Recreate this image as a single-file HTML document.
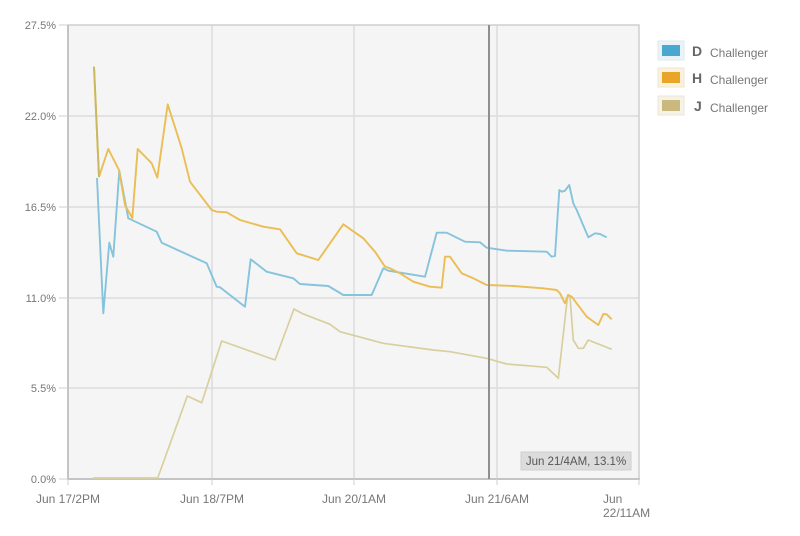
<!DOCTYPE html>
<html><head><meta charset="utf-8"><style>
html,body{margin:0;padding:0;background:#fff;}
svg{display:block;font-family:"Liberation Sans",sans-serif;}
</style></head><body>
<svg width="800" height="536" viewBox="0 0 800 536" xmlns="http://www.w3.org/2000/svg">
<rect x="68" y="25" width="571" height="454" fill="#f5f5f5"/>
<g stroke="#dcdcdc" stroke-width="1.5">
<line x1="68" y1="116" x2="639" y2="116"/>
<line x1="68" y1="207" x2="639" y2="207"/>
<line x1="68" y1="298" x2="639" y2="298"/>
<line x1="68" y1="388" x2="639" y2="388"/>
<line x1="212" y1="25" x2="212" y2="479"/>
<line x1="354" y1="25" x2="354" y2="479"/>
<line x1="497" y1="25" x2="497" y2="479"/>
</g>
<rect x="68" y="25" width="571" height="454" fill="none" stroke="#cfcfcf" stroke-width="1.5"/>
<line x1="68" y1="25" x2="68" y2="480" stroke="#c4c4c4" stroke-width="2"/>
<line x1="67" y1="479" x2="640" y2="479" stroke="#c4c4c4" stroke-width="2"/>
<g stroke="#cfcfcf" stroke-width="1">
<line x1="59" y1="25" x2="68" y2="25"/><line x1="59" y1="116" x2="68" y2="116"/><line x1="59" y1="207" x2="68" y2="207"/><line x1="59" y1="298" x2="68" y2="298"/><line x1="59" y1="388" x2="68" y2="388"/><line x1="59" y1="479" x2="68" y2="479"/>
<line x1="68" y1="479" x2="68" y2="485"/><line x1="212" y1="479" x2="212" y2="485"/><line x1="354" y1="479" x2="354" y2="485"/><line x1="497" y1="479" x2="497" y2="485"/><line x1="639" y1="479" x2="639" y2="485"/>
</g>
<g font-size="11" fill="#777" text-anchor="end">
<text x="56" y="29">27.5%</text>
<text x="56" y="120">22.0%</text>
<text x="56" y="211">16.5%</text>
<text x="56" y="302">11.0%</text>
<text x="56" y="392">5.5%</text>
<text x="56" y="483">0.0%</text>
</g>
<g font-size="12" fill="#777" text-anchor="middle">
<text x="68" y="503">Jun 17/2PM</text>
<text x="212" y="503">Jun 18/7PM</text>
<text x="354" y="503">Jun 20/1AM</text>
<text x="497" y="503">Jun 21/6AM</text>
<text x="603" y="503" text-anchor="start">Jun</text>
<text x="603" y="517" text-anchor="start">22/11AM</text>
</g>
<!-- J series -->
<polyline fill="none" stroke="#d9cf9e" stroke-width="1.7" stroke-linejoin="round" points="93,478 157.7,478 187.3,396 201.7,402.7 221.7,341 275,360 294,309 301.7,313.3 330,324.3 340,331.7 383.3,343.3 433.3,350 450,351.7 486.7,358.3 506.7,364 546.7,367.3 558.3,378.3 567.7,295 570,296.7 573.3,340 578.3,348.3 583.3,348.3 588.3,340 611.7,349.3"/>
<!-- D series -->
<polyline fill="none" stroke="#86c3dc" stroke-width="1.9" stroke-linejoin="round" points="97,178 103.3,313.3 109.3,242.7 113.3,256.7 119.3,170.7 128.3,218.3 156.7,231.7 161.7,242.7 206.7,263.3 216.7,286.7 220,287.3 245,306.7 250.7,259.3 266.7,271.7 293.3,278.3 300,284 328.3,286 343.3,295 371.7,295 383.3,268.3 388.3,270.7 425,276.7 436.7,232.7 446.7,232.7 465,241.7 480,242.3 486.7,247.7 506.7,250.7 546.7,251.7 551.7,256.7 555,256 559.3,190 561.7,191.7 565,190.7 569.3,185 573.3,203.3 576.7,210 588.3,237.3 595,233.3 600,234 606.7,237.3"/>
<!-- H series -->
<polyline fill="none" stroke="#ebbd55" stroke-width="1.9" stroke-linejoin="round" points="94,66.7 99,176.7 108.3,149 119,170 125,205 132.3,218 137.7,149 151.7,163.3 157.3,177.7 167.7,104.3 181.7,148.3 190,181.7 211.7,210 216.7,211.7 226.7,212.3 240,220 263.3,226.7 280,229.3 296.7,253.3 318.3,260 343.3,224.3 363.3,238.3 375,251.7 385,266.7 390,268.3 400,273.3 413.3,281.7 430,286.7 441.7,287.7 445,256.7 450,256.7 461.7,273.3 473.3,278.3 486.7,285 513.3,286 543.3,288.3 556.7,290 560,293.3 565,303.3 568.3,295 571.7,296.7 586.7,316.7 598.3,325 603.3,314 606.7,314.3 611.7,319.3"/>
<line x1="94" y1="66.7" x2="99" y2="176.7" stroke="#c9b860" stroke-width="1.9"/>
<!-- hover line -->
<line x1="489" y1="25" x2="489" y2="479" stroke="#8f8f8f" stroke-width="2"/>
<!-- tooltip -->
<rect x="521" y="452" width="110" height="18" fill="#dcdcdc" stroke="#d0d0d0"/>
<text x="576" y="465" font-size="11.5" fill="#555" text-anchor="middle">Jun 21/4AM, 13.1%</text>
<!-- legend -->
<rect x="658" y="41" width="26" height="19" fill="#eaf4f8" stroke="#dfe9ee"/>
<rect x="662" y="45" width="18" height="11" fill="#4aa8d0"/>
<rect x="658" y="68" width="26" height="19" fill="#fbf1dc" stroke="#efe6d3"/>
<rect x="662" y="72" width="18" height="11" fill="#e8a52a"/>
<rect x="658" y="96" width="26" height="19" fill="#f5f2e6" stroke="#ebe7da"/>
<rect x="662" y="100" width="18" height="11" fill="#c9b97e"/>
<g fill="#666">
<text x="692" y="56" font-size="14" font-weight="bold">D</text>
<text x="692" y="83" font-size="14" font-weight="bold">H</text>
<text x="694" y="111" font-size="14" font-weight="bold">J</text>
<text x="710" y="57" font-size="12" fill="#777">Challenger</text>
<text x="710" y="84" font-size="12" fill="#777">Challenger</text>
<text x="710" y="112" font-size="12" fill="#777">Challenger</text>
</g>
</svg>
</body></html>
